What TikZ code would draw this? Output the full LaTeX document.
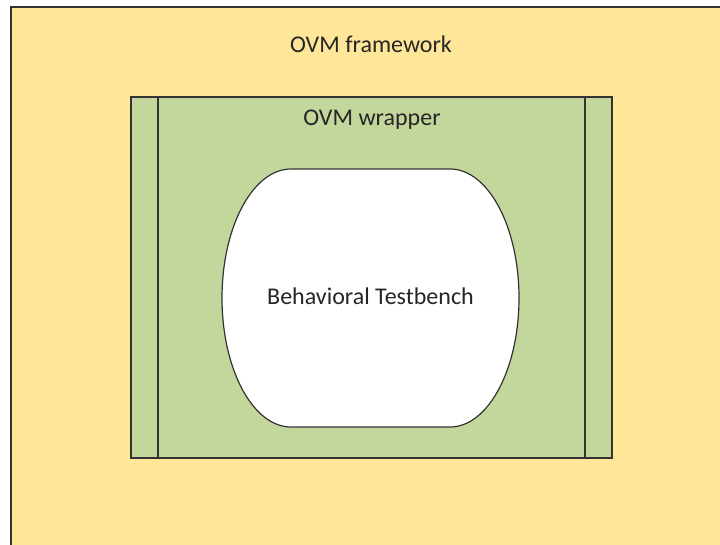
\documentclass[tikz,border=0pt]{standalone}
\usepackage{fontspec}
\setmainfont{Carlito}
\definecolor{frameyellow}{HTML}{FFE699}
\definecolor{wrapgreen}{HTML}{C3D69B}
\definecolor{edgegray}{HTML}{333333}
\begin{document}
\begin{tikzpicture}[x=0.75pt,y=-0.75pt,
  txt/.style={font=\fontsize{18}{21.6}\selectfont, inner sep=0pt, anchor=base, text=black!85},
  box/.style={draw=edgegray, line width=0.9pt}]
\useasboundingbox (0,0) rectangle (720,545);
\clip (0,0) rectangle (720,545);
\fill[white] (0,0) rectangle (720,545);
% framework area (runs off the right and bottom edges)
\draw[box, fill=frameyellow] (11,7) rectangle (740,565);
% wrapper with its two side bars
\draw[box, fill=wrapgreen] (131,97) rectangle (612,458);
\draw[box] (158,97) -- (158,458);
\draw[box] (585,97) -- (585,458);
% testbench: flat top and bottom, elliptic sides
\draw[box, fill=white]
  (291,169) -- (450,169)
  .. controls (488.1,169) and (519,226.8) .. (519,298)
  .. controls (519,369.2) and (488.1,427) .. (450,427)
  -- (291,427)
  .. controls (252.9,427) and (222,369.2) .. (222,298)
  .. controls (222,226.8) and (252.9,169) .. (291,169) -- cycle;
\node[txt] (fw) at (371,53) {OVM framework};
\node[txt] (wr) at (372,126) {OVM wrapper};
\node[txt] (tb) at (370.5,304) {Behavioral Testbench};
\end{tikzpicture}
\end{document}
